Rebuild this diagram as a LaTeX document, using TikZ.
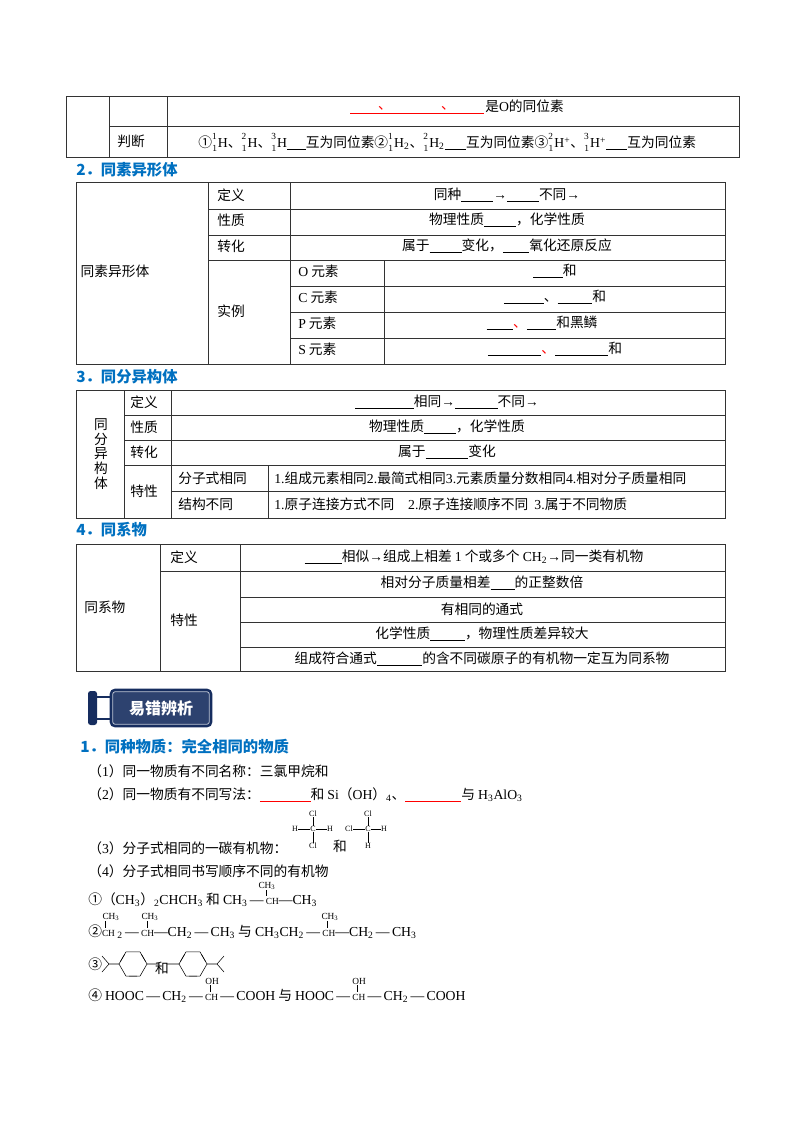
\documentclass[tikz,border=0pt]{standalone}
\usepackage{fontspec}
\setmainfont{Noto Sans CJK SC}
\newfontfamily\lat{Liberation Serif}
\usetikzlibrary{calc}
\definecolor{hblue}{RGB}{0,112,192}
\definecolor{navy}{RGB}{22,45,95}
\newcommand{\bl}[1]{\rule[-1.5pt]{#1}{0.5pt}}
\newcommand{\rbl}[1]{\textcolor{red}{\rule[-1.5pt]{#1}{0.6pt}}}
\newcommand{\iso}[1]{{\lat\ensuremath{{}^{\raisebox{3pt}{\scriptsize #1}}_{1}}H}}
\newcommand{\ra}{{\lat →}}
\begin{document}
\begin{tikzpicture}[x=0.75pt,y=-0.75pt,font=\fontsize{10.3}{12}\selectfont,
 tl/.style={line width=0.6pt,draw=black!80},
 t/.style={inner sep=0pt,anchor=west},
 c/.style={inner sep=0pt},
 hd/.style={inner sep=0pt,anchor=west,text=hblue,font=\fontsize{11.5}{13}\selectfont\bfseries}]
\useasboundingbox (0,0) rectangle (800,1132);
% table 1
\draw[tl] (66,96) rectangle (739,157);
\draw[tl] (109,96)--(109,157) (167,96)--(167,157) (109,126)--(739,126);
\draw[red,line width=0.6pt] (350,113)--(484,113);
\node[c,text=red] (r1) at (385,108) {、};
\node[c,text=red] (r2) at (448,108) {、};
\node[t] (t1a) at (485,106) {是{\lat O}的同位素};
\node[c] (t1b) at (131,141) {判断};
\node[t] (t1c) at (198,142) {①\iso{1}、\iso{2}、\iso{3}\bl{14pt}互为同位素②\iso{1}{\lat\textsubscript{2}}、\iso{2}{\lat\textsubscript{2}}\bl{16pt}互为同位素③\iso{2}{\lat\textsuperscript{+}}、\iso{3}{\lat\textsuperscript{+}}\bl{16pt}互为同位素};
% 2
\node[hd] (h2) at (76,170) {2．同素异形体};
\draw[tl] (76,182) rectangle (725,364);
\draw[tl] (208,182)--(208,364) (290,182)--(290,364) (384,260)--(384,364);
\foreach \y in {209,235,260} \draw[tl] (208,\y)--(725,\y);
\foreach \y in {286,312,338} \draw[tl] (290,\y)--(725,\y);
\node[c] (a0) at (115,271) {同素异形体};
\node[t] (a1) at (217,195) {定义};
\node[t] (a2) at (217,220) {性质};
\node[t] (a3) at (217,246) {转化};
\node[t] (a4) at (217,311) {实例};
\node[c] (b1) at (507,195) {同种\bl{24pt}\ra{}\bl{24pt}不同\ra{}};
\node[c] (b2) at (507,220) {物理性质\bl{24pt}，化学性质};
\node[c] (b3) at (507,246) {属于\bl{24pt}变化，\bl{20pt}氧化还原反应};
\node[t] (e1) at (298,271) {{\lat O} 元素};
\node[t] (e2) at (298,297) {{\lat C} 元素};
\node[t] (e3) at (298,323) {{\lat P} 元素};
\node[t] (e4) at (298,349) {{\lat S} 元素};
\node[c] (f1) at (555,271) {\bl{22pt}和};
\node[c] (f2) at (555,297) {\bl{30pt}、\bl{26pt}和};
\node[c] (f3) at (542,323) {\bl{20pt}\textcolor{red}{、}\bl{22pt}和黑鳞};
\node[c] (f4) at (555,349) {\bl{40pt}\textcolor{red}{、}\bl{40pt}和};
% 3
\node[hd] (h3) at (76,377) {3．同分异构体};
\draw[tl] (76,390) rectangle (725,518);
\draw[tl] (124,390)--(124,518) (171,390)--(171,518) (268,465)--(268,518);
\foreach \y in {415,440,465} \draw[tl] (124,\y)--(725,\y);
\draw[tl] (171,491)--(725,491);
\node[c,align=center,font=\fontsize{10.3}{11}\selectfont] (g0) at (101,454) {同\\分\\异\\构\\体};
\node[t] (g1) at (130,402) {定义};
\node[t] (g2) at (130,427) {性质};
\node[t] (g3) at (130,452) {转化};
\node[t] (g4) at (130,491) {特性};
\node[c] (k1) at (447,402) {\bl{44pt}相同\ra{}\bl{32pt}不同\ra{}};
\node[c] (k2) at (447,427) {物理性质\bl{24pt}，化学性质};
\node[c] (k3) at (447,452) {属于\bl{32pt}变化};
\node[t] (k4) at (178,478) {分子式相同};
\node[t] (k5) at (178,504) {结构不同};
\node[t] (k6) at (274,478) {{\lat 1.}组成元素相同{\lat 2.}最简式相同{\lat 3.}元素质量分数相同{\lat 4.}相对分子质量相同};
\node[t] (k7) at (274,504) {{\lat 1.}原子连接方式不同\quad{\lat 2.}原子连接顺序不同\ \ {\lat 3.}属于不同物质};
% 4
\node[hd] (h4) at (76,530) {4．同系物};
\draw[tl] (76,544) rectangle (725,671);
\draw[tl] (160,544)--(160,671) (240,544)--(240,671);
\draw[tl] (160,571)--(725,571);
\foreach \y in {597,622,647} \draw[tl] (240,\y)--(725,\y);
\node[t] (m0) at (84,607) {同系物};
\node[t] (m1) at (170,557) {定义};
\node[t] (m2) at (170,620) {特性};
\node[c] (n1) at (474,557) {\bl{28pt}相似\ra{}组成上相差 {\lat 1} 个或多个 {\lat CH\textsubscript{2}}\ra{}同一类有机物};
\node[c] (n2) at (482,583) {相对分子质量相差\bl{18pt}的正整数倍};
\node[c] (n3) at (482,609) {有相同的通式};
\node[c] (n4) at (482,634) {化学性质\bl{26pt}，物理性质差异较大};
\node[c] (n5) at (482,659) {组成符合通式\bl{34pt}的含不同碳原子的有机物一定互为同系物};
% banner
\fill[navy,rounded corners=2pt] (88,691) rectangle (97,725);
\draw[navy,line width=1.5pt] (97,697)--(111,697) (97,719)--(111,719);
\node[draw=navy,line width=2pt,fill=navy!90,rounded corners=3pt,minimum width=75pt,minimum height=27pt,text=white,font=\fontsize{12}{13}\selectfont\bfseries] (bn) at (161,708) {易错辨析};
\draw[white!70!navy,line width=0.6pt,rounded corners=2pt] ($(bn.south west)+(3,-3)$) rectangle ($(bn.north east)+(-3,3)$);
\node[hd] (s1) at (80,747) {1．同种物质：完全相同的物质};
\node[t] (l1) at (88,771) {（{\lat 1}）同一物质有不同名称：三氯甲烷和};
\node[t] (l2) at (88,795) {（{\lat 2}）同一物质有不同写法：\rbl{38pt}和 {\lat Si}（{\lat OH}）{\lat\textsubscript{4}}、\rbl{42pt}与 {\lat H\textsubscript{3}AlO\textsubscript{3}}};
\begin{scope}[font=\fontsize{6}{7}\lat]
\node[c] (c1) at (313,829) {C};
\node[c] (c1n) at (313,814) {Cl};
\node[c] (c1s) at (313,846) {Cl};
\node[c] (c1w) at (295,829) {H};
\node[c] (c1e) at (330,829) {H};
\draw (c1n)--(c1) (c1)--(c1s) (c1w)--(c1) (c1)--(c1e);
\node[c] (c2) at (368,829) {C};
\node[c] (c2n) at (368,814) {Cl};
\node[c] (c2s) at (368,846) {H};
\node[c] (c2w) at (349,829) {Cl};
\node[c] (c2e) at (384,829) {H};
\draw (c2n)--(c2) (c2)--(c2s) (c2w)--(c2) (c2)--(c2e);
\end{scope}
\node[c] (he) at (340,846) {和};
\node[t] (l3) at (88,848) {（{\lat 3}）分子式相同的一碳有机物：};
\node[t] (l4) at (88,871) {（{\lat 4}）分子式相同书写顺序不同的有机物};
\node[t] (q1) at (88,900) {①（{\lat CH\textsubscript{3}}）{\lat\textsubscript{2}CHCH\textsubscript{3}} 和 {\lat CH\textsubscript{3}\,—\,{\scriptsize CH}—CH\textsubscript{3}}};
\node[c,font=\fontsize{7}{8}\lat] (q1m) at (267,886) {CH\textsubscript{3}};
\draw (266,890)--(266,896);
\node[t] (q2) at (88,932) {②{\lat{\scriptsize CH}\,\textsubscript{2}\,—\,{\scriptsize CH}—CH\textsubscript{2}\,—\,CH\textsubscript{3}} 与 {\lat CH\textsubscript{3}CH\textsubscript{2}\,—\,{\scriptsize CH}—CH\textsubscript{2}\,—\,CH\textsubscript{3}}};
\node[c,font=\fontsize{7}{8}\lat] (q2a) at (111,917) {CH\textsubscript{3}};
\node[c,font=\fontsize{7}{8}\lat] (q2b) at (150,917) {CH\textsubscript{3}};
\node[c,font=\fontsize{7}{8}\lat] (q2c) at (330,917) {CH\textsubscript{3}};
\draw (105,921)--(105,928) (147,921)--(147,928) (327,921)--(327,928);
\node[t] (q3) at (88,964) {③};
\foreach \cx/\nm in {133/p,193/q} {
  \foreach \k in {0,...,5} \coordinate (\nm\k) at ($(\cx,964)+({60*\k}:-14 and 14)$);
  \draw (\nm0)--(\nm1)--(\nm2)--(\nm3)--(\nm4)--(\nm5)--cycle;
  \draw ($(\nm1)!0.2!(\nm2)$)--($(\nm2)!0.2!(\nm1)$) ($(\nm3)!0.2!(\nm4)$)--($(\nm4)!0.2!(\nm3)$) ($(\nm5)!0.2!(\nm0)$)--($(\nm0)!0.2!(\nm5)$);
}
\coordinate (pa) at ($(p0)+(-10,0)$);
\coordinate (pb) at ($(p3)+(12,0)$);
\draw (p0)--(pa) (pa)--++(-7,-8) (pa)--++(-7,8) (p3)--(pb);
\coordinate (qa) at ($(q0)+(-12,0)$);
\coordinate (qb) at ($(q3)+(10,0)$);
\draw (q0)--(qa) (q3)--(qb) (qb)--++(7,-8) (qb)--++(7,8);
\node[c] (he2) at (162,968) {和};
\node[t] (q4) at (88,996) {④ {\lat HOOC\,—\,CH\textsubscript{2}\,—\,{\scriptsize CH}\,—\,COOH} 与 {\lat HOOC\,—\,{\scriptsize CH}\,—\,CH\textsubscript{2}\,—\,COOH}};
\node[c,font=\fontsize{7}{8}\lat] (q4a) at (212,981) {OH};
\node[c,font=\fontsize{7}{8}\lat] (q4b) at (359,981) {OH};
\draw (210,985)--(210,992) (357,985)--(357,992);
\end{tikzpicture}
\end{document}
